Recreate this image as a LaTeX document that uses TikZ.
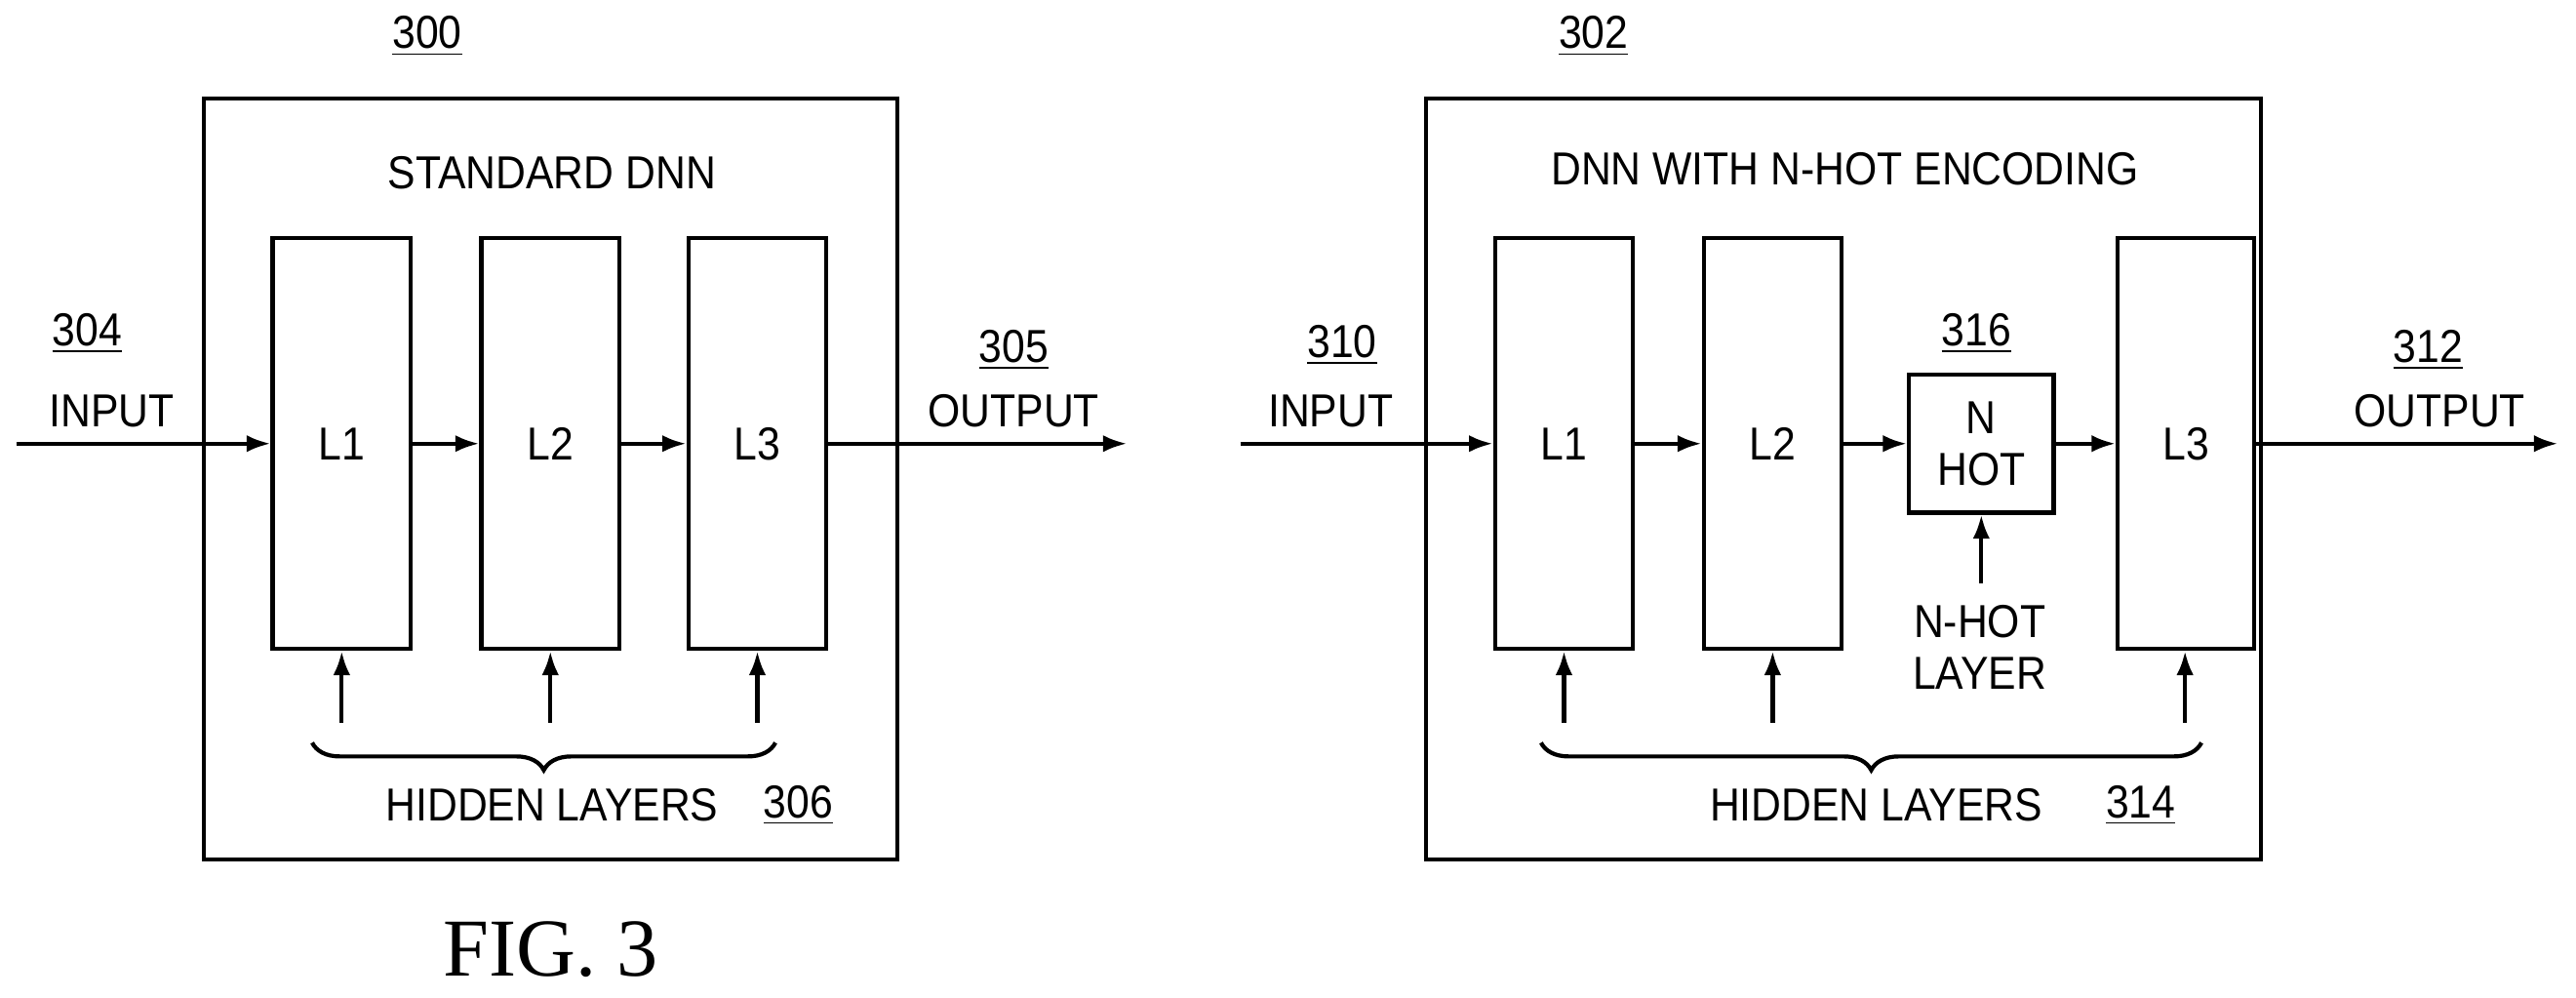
\documentclass[tikz,border=0pt]{standalone}
\usepackage{fontspec}
\setmainfont{Liberation Sans}[FakeStretch=0.9]
\newfontfamily\figfont{Liberation Serif}
\usetikzlibrary{decorations.pathreplacing,arrows.meta}

\tikzstyle{frame}=[draw,line width=1.2pt,inner sep=0pt]
\tikzstyle{layer}=[draw,line width=1.2pt,inner sep=0pt]
\tikzstyle{edge} = [draw,line width=1.2pt,-{Latex[length=7pt,width=5pt]}]
\tikzstyle{lbl} = [font=\fontsize{13.5}{15}\selectfont,inner sep=1pt]

\begin{document}
\begin{tikzpicture}[x=0.016843cm,y=-0.016843cm]
\useasboundingbox (0,0) rectangle (1568,607);
% frames
\draw[frame] (124,60) rectangle (546,523);
\draw[frame] (868,60) rectangle (1376,523);
\node[lbl] (t1) at (336,105) {STANDARD DNN};
\node[lbl] (t2) at (1123,103) {DNN WITH N-HOT ENCODING};
% layers
\foreach \name/\xa/\xb/\ya/\yb/\txt in {a1/166/250/145/395/L1, a2/293/377/145/395/L2,
                                        a3/419/503/145/395/L3, b1/910/994/145/395/L1,
                                        b2/1037/1121/145/395/L2, b3/1289/1372/145/395/L3,
                                        nh/1162/1250/228/312/{N\\HOT}}{
  \node[layer,minimum width=(\xb-\xa)*0.016843cm,minimum height=(\yb-\ya)*0.016843cm,
        lbl,align=center] (\name) at ({(\xa+\xb)/2},{(\ya+\yb)/2}) {\txt};
}
% flow
\coordinate (ina) at (10,270);
\coordinate (outa) at (686,270);
\coordinate (inb) at (755,270);
\coordinate (outb) at (1557,270);
\path[edge] (ina) -- (ina -| a1.west);
\path[edge] (a1.east |- 0,270) -- (a2.west |- 0,270);
\path[edge] (a2.east |- 0,270) -- (a3.west |- 0,270);
\path[edge] (a3.east |- 0,270) -- (outa);
\path[edge] (inb) -- (inb -| b1.west);
\path[edge] (b1.east |- 0,270) -- (b2.west |- 0,270);
\path[edge] (b2.east |- 0,270) -- (nh.west);
\path[edge] (nh.east) -- (b3.west |- 0,270);
\path[edge] (b3.east |- 0,270) -- (outb);
% hidden layer arrows
\foreach \dest/\x in {a1/208, a2/335, a3/461, b1/952, b2/1079, b3/1330}{
  \coordinate (h\dest) at (\x,440);
  \path[edge] (h\dest) -- (h\dest |- \dest.south);
}
\coordinate (hn) at (1206,355);
\path[edge] (hn) -- (nh.south);
\node[lbl,align=center] (nhl) at (1205,394) {N-HOT\\LAYER};
% braces
\draw[line width=1.2pt,decorate,decoration={brace,mirror,amplitude=8pt}] (190,452) -- (472,452);
\draw[line width=1.2pt,decorate,decoration={brace,mirror,amplitude=8pt}] (938,452) -- (1340,452);
\node[lbl] (hl1) at (336,490) {HIDDEN LAYERS};
\node[lbl] (hl2) at (1142,490) {HIDDEN LAYERS};
% labels
\node[lbl] (iA) at (68,250) {INPUT};
\node[lbl] (oA) at (617,250) {OUTPUT};
\node[lbl] (iB) at (810,250) {INPUT};
\node[lbl] (oB) at (1485,250) {OUTPUT};
\foreach \txt/\x/\y in {300/260/22, 304/53/203, 305/617/213, 306/486/490,
                        302/970/22, 310/817/210, 316/1203/203, 312/1478/213, 314/1303/490}{
  \node[lbl] (r\txt) at (\x,\y) {\underline{\txt}};
}
\node[font=\figfont\fontsize{24}{26}\selectfont] (fig) at (335,578) {FIG. 3};
\end{tikzpicture}
\end{document}
